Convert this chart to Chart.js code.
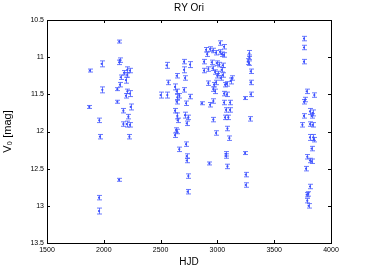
<!DOCTYPE html>
<html>
<head>
<meta charset="utf-8">
<script src="https://cdn.jsdelivr.net/npm/chart.js@4"></script>
<style>
  html, body { margin: 0; padding: 0; background: #fff; }
  #wrap { width: 366px; height: 275px; }
</style>
</head>
<body>
<div id="wrap"><canvas id="lc"></canvas></div>
<script>
// HJD (-2450000) of each observation
const hjd = [
  1878, 1872, 1981, 1987, 1960, 1966, 1958, 1958, 2134, 2225,
  2136, 2136, 2140, 2178, 2207, 2230, 2149, 2195, 2207, 2142,
  2119, 2207, 2230, 2195, 2237, 2119, 2172, 2216, 2172, 2201,
  2230, 2500, 2559, 2553, 2568, 2627, 2642, 2642, 2647, 2665,
  2642, 2627, 2647, 2650, 2706, 2706, 2715, 2706, 2724, 2759,
  2759, 2715, 2744, 2730, 2636, 2627, 2642, 2664, 2724, 2730,
  2730, 2744, 2738, 3023, 3058, 2900, 2935, 2958, 2910, 2988,
  3023, 3038, 3058, 2882, 2950, 2994, 3017, 3047, 2882, 2920,
  2958, 2979, 3008, 3038, 3000, 3029, 3047, 3126, 3117, 2920,
  2970, 2988, 2964, 2979, 3067, 3082, 3058, 3082, 2862, 2935,
  2964, 3058, 3111, 3111, 3076, 3067, 3096, 2964, 3088, 2988,
  3105, 3076, 3076, 2929, 3088, 3243, 3249, 3249, 3281, 3281,
  3267, 3278, 3293, 3293, 3293, 3243, 3288, 3762, 3762, 3762,
  3786, 3853, 3770, 3762, 3815, 3838, 3762, 3829, 3815, 3838,
  3748, 3815, 3844, 3850, 3829, 3791, 3815, 3829, 3780, 3815,
  3786, 3800, 3791, 3803
];
// V_0 magnitude
const mag = [
  11.18, 11.67, 11.09, 11.44, 11.85, 12.07, 12.89, 13.07, 12.65, 12.07,
  10.79, 11.07, 11.04, 11.21, 11.17, 11.18, 11.27, 11.31, 11.24, 11.37,
  11.43, 11.46, 11.49, 11.52, 11.67, 11.60, 11.72, 11.80, 11.90, 11.90,
  11.91, 11.51, 11.51, 11.11, 11.34, 11.40, 11.25, 11.46, 11.54, 11.52,
  11.60, 11.72, 11.79, 11.85, 11.06, 11.17, 11.28, 11.44, 11.62, 11.10,
  11.53, 11.78, 11.81, 11.89, 11.98, 12.05, 12.00, 12.24, 12.17, 12.33,
  12.39, 12.60, 12.81, 10.81, 10.86, 10.90, 10.89, 10.91, 10.96, 10.94,
  10.93, 10.96, 10.97, 11.06, 11.07, 11.08, 11.10, 11.11, 11.18, 11.16,
  11.15, 11.20, 11.22, 11.17, 11.25, 11.28, 11.24, 11.28, 11.32, 11.35,
  11.37, 11.34, 11.43, 11.46, 11.37, 11.36, 11.49, 11.50, 11.62, 11.64,
  11.59, 11.61, 11.61, 11.71, 11.71, 11.81, 11.81, 11.84, 11.96, 12.02,
  12.09, 12.30, 12.33, 12.43, 12.47, 12.29, 12.58, 12.72, 10.95, 11.00,
  11.06, 11.08, 11.19, 11.34, 11.50, 11.55, 11.83, 10.75, 10.87, 11.06,
  11.46, 11.51, 11.57, 11.60, 11.73, 11.75, 11.79, 11.79, 11.90, 11.91,
  11.91, 12.08, 12.08, 12.11, 12.23, 12.34, 12.39, 12.40, 12.50, 12.74,
  12.85, 12.84, 12.93, 13.00
];
// 1-sigma error of each magnitude
const err = [
  0.02, 0.02, 0.04, 0.04, 0.03, 0.03, 0.03, 0.04, 0.02, 0.03,
  0.02, 0.03, 0.03, 0.03, 0.04, 0.03, 0.03, 0.04, 0.03, 0.03,
  0.02, 0.03, 0.04, 0.03, 0.04, 0.02, 0.03, 0.03, 0.03, 0.04,
  0.03, 0.04, 0.04, 0.04, 0.03, 0.04, 0.03, 0.03, 0.04, 0.03,
  0.03, 0.03, 0.04, 0.03, 0.03, 0.04, 0.03, 0.03, 0.03, 0.04,
  0.03, 0.04, 0.03, 0.03, 0.03, 0.03, 0.03, 0.03, 0.03, 0.03,
  0.03, 0.03, 0.03, 0.03, 0.03, 0.03, 0.03, 0.03, 0.03, 0.03,
  0.03, 0.03, 0.03, 0.03, 0.03, 0.03, 0.03, 0.03, 0.03, 0.03,
  0.03, 0.03, 0.03, 0.03, 0.03, 0.03, 0.03, 0.03, 0.04, 0.03,
  0.03, 0.03, 0.03, 0.03, 0.03, 0.03, 0.03, 0.03, 0.02, 0.03,
  0.03, 0.03, 0.03, 0.03, 0.03, 0.03, 0.03, 0.03, 0.03, 0.03,
  0.03, 0.03, 0.03, 0.02, 0.03, 0.02, 0.03, 0.03, 0.04, 0.03,
  0.04, 0.03, 0.03, 0.03, 0.03, 0.02, 0.03, 0.03, 0.03, 0.03,
  0.03, 0.03, 0.03, 0.03, 0.04, 0.04, 0.03, 0.03, 0.03, 0.03,
  0.03, 0.04, 0.04, 0.03, 0.03, 0.03, 0.03, 0.03, 0.03, 0.03,
  0.03, 0.03, 0.03, 0.03
];
const xTicks = [1500, 2000, 2500, 3000, 3500, 4000];
const yTicks = [10.5, 11, 11.5, 12, 12.5, 13, 13.5];

const blue = "rgb(60,80,255)";
const font = "'Liberation Sans', Arial, sans-serif";

let points = hjd.map((h, i) => ({ x: h, y: mag[i], e: err[i] }));

// draws the error bars with caps
const errorBars = {
  id: "errorBars",
  beforeDatasetsDraw(chart) {
    let ctx = chart.ctx;
    let xs = chart.scales.x, ys = chart.scales.y;
    ctx.save();
    ctx.strokeStyle = "rgba(70,90,255,0.8)";
    ctx.lineWidth = 1;
    points.forEach(p => {
      let px = Math.round(xs.getPixelForValue(p.x)) + 0.5;
      let y1 = ys.getPixelForValue(p.y - p.e);
      let y2 = ys.getPixelForValue(p.y + p.e);
      ctx.beginPath();
      ctx.moveTo(px, y1); ctx.lineTo(px, y2);
      ctx.moveTo(px - 2.5, y1); ctx.lineTo(px + 2.5, y1);
      ctx.moveTo(px - 2.5, y2); ctx.lineTo(px + 2.5, y2);
      ctx.stroke();
    });
    ctx.restore();
  }
};

// box and inward ticks on all four sides
const frame = {
  id: "frame",
  afterDraw(chart) {
    let ctx = chart.ctx;
    let a = chart.chartArea;
    let xs = chart.scales.x, ys = chart.scales.y;
    ctx.save();
    ctx.strokeStyle = "#000";
    ctx.lineWidth = 1;
    ctx.strokeRect(Math.round(a.left) + 0.5, Math.round(a.top) + 0.5,
      Math.round(a.right - a.left), Math.round(a.bottom - a.top));
    ctx.beginPath();
    xTicks.forEach(v => {
      let px = Math.round(xs.getPixelForValue(v)) + 0.5;
      ctx.moveTo(px, a.bottom); ctx.lineTo(px, a.bottom - 3);
      ctx.moveTo(px, a.top); ctx.lineTo(px, a.top + 3);
    });
    yTicks.forEach(v => {
      let py = Math.round(ys.getPixelForValue(v)) + 0.5;
      ctx.moveTo(a.left, py); ctx.lineTo(a.left + 3, py);
      ctx.moveTo(a.right, py); ctx.lineTo(a.right - 3, py);
    });
    ctx.stroke();
    ctx.restore();
  }
};

new Chart(document.getElementById("lc"), {
  type: "scatter",
  data: {
    datasets: [{
      data: points,
      pointRadius: 1.1,
      pointHoverRadius: 1.1,
      backgroundColor: blue,
      borderWidth: 0
    }]
  },
  options: {
    responsive: true,
    maintainAspectRatio: false,
    animation: false,
    events: [],
    layout: { padding: { right: 35 } },
    plugins: {
      legend: { display: false },
      tooltip: { enabled: false },
      title: {
        display: true,
        text: "RY Ori",
        fullSize: false,
        color: "#000",
        font: { family: font, size: 10, weight: "normal", lineHeight: 1.2 },
        padding: { top: 2, bottom: 6 }
      }
    },
    scales: {
      x: {
        type: "linear",
        min: 1500,
        max: 4000,
        afterBuildTicks: s => { s.ticks = xTicks.map(v => ({ value: v })); },
        afterFit: s => { s.height = 32; },
        grid: { display: false, drawTicks: false },
        border: { display: false },
        ticks: {
          color: "#000", padding: 3, maxRotation: 0,
          font: { family: font, size: 7 },
          callback: v => String(v)
        },
        title: {
          display: true, text: "HJD", color: "#000",
          font: { family: font, size: 10, lineHeight: 1.2 },
          padding: { top: 0, bottom: 7 }
        }
      },
      y: {
        type: "linear",
        reverse: true,
        min: 10.5,
        max: 13.5,
        afterBuildTicks: s => { s.ticks = yTicks.map(v => ({ value: v })); },
        afterFit: s => { s.width = 47; },
        grid: { display: false, drawTicks: false },
        border: { display: false },
        ticks: {
          color: "#000", padding: 3,
          font: { family: font, size: 7 },
          callback: v => String(v)
        },
        title: {
          display: true, text: "V₀ [mag]", color: "#000",
          font: { family: font, size: 11, lineHeight: 1.2 },
          padding: { top: 1, bottom: 0 }
        }
      }
    }
  },
  plugins: [errorBars, frame]
});
</script>
</body>
</html>
